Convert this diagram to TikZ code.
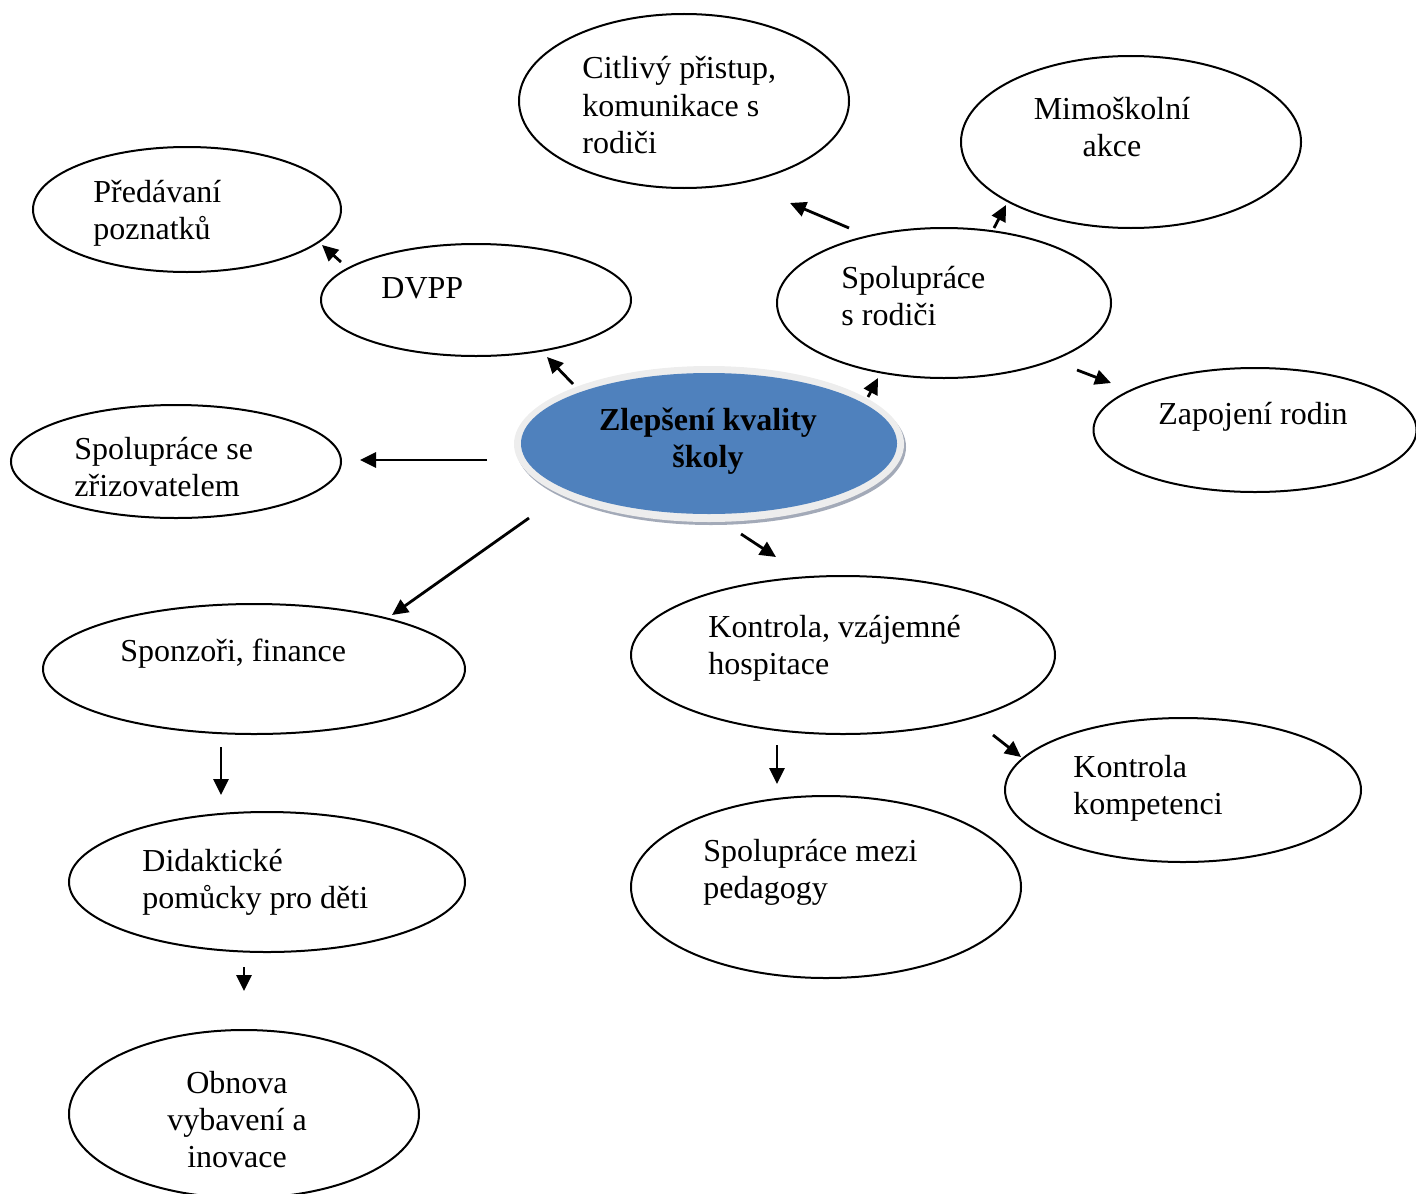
\documentclass[tikz,border=0pt]{standalone}
\usepackage{fontspec}
\setmainfont{Liberation Serif}
\usetikzlibrary{shapes.geometric,arrows.meta}
\definecolor{cblue}{HTML}{4F81BD}
\definecolor{crim}{HTML}{EDEDED}
\definecolor{cshadow}{HTML}{A3AAB8}
\begin{document}
\begin{tikzpicture}[x=0.5pt,y=-0.5pt,
  bub/.style={draw,ellipse,line width=1pt,inner sep=0,outer sep=0},
  lbl/.style={inner sep=0,align=left,anchor=base west,font=\fontsize{16}{18.5}\selectfont},
  clbl/.style={inner sep=0,align=center,anchor=base,font=\fontsize{16}{18.5}\selectfont},
  arr/.style={line width=1.4pt,-{Triangle[length=8pt,width=7.5pt]}}]
\useasboundingbox (0,0) rectangle (1416,1193);
\clip (0,0) rectangle (1416,1193);

% central ellipse
\node[ellipse,fill=cshadow,inner sep=0,minimum width=195pt,minimum height=78pt] (cshad) at (711,447) {};
\node[ellipse,fill=crim,inner sep=0,minimum width=195pt,minimum height=78pt] (crimn) at (709,444) {};
\node[ellipse,fill=cblue,inner sep=0,minimum width=188pt,minimum height=70.5pt] (center) at (709,443.5) {};
\node[clbl,font=\fontsize{16}{18.5}\selectfont\bfseries] (centerT) at (708,467) {Zlepšení kvality\\školy};

% outer ellipses
\node[bub,minimum width=154pt,minimum height=62.5pt] (pred) at (187,209.5) {};
\node[lbl] (predT) at (93,239) {Předávaní\\poznatků};

\node[bub,minimum width=165pt,minimum height=87pt] (citl) at (684,101) {};
\node[lbl] (citlT) at (582,153) {Citlivý přistup,\\komunikace s\\rodiči};

\node[bub,minimum width=170pt,minimum height=86pt] (mimo) at (1131,142) {};
\node[clbl] (mimoT) at (1112,156) {Mimoškolní\\akce};

\node[bub,minimum width=155pt,minimum height=56pt] (dvpp) at (476,300) {};
\node[lbl] (dvppT) at (381,298) {DVPP};

\node[bub,minimum width=167pt,minimum height=75pt] (rod) at (944,303) {};
\node[lbl] (rodT) at (841,325) {Spolupráce\\s rodiči};

\node[bub,minimum width=161.5pt,minimum height=62pt] (zap) at (1255,430) {};
\node[lbl] (zapT) at (1158,424) {Zapojení rodin};

\node[bub,minimum width=165pt,minimum height=56.5pt] (zriz) at (176,461.5) {};
\node[lbl] (zrizT) at (74,496) {Spolupráce se\\zřizovatelem};

\node[bub,minimum width=211pt,minimum height=65pt] (spon) at (254,669) {};
\node[lbl] (sponT) at (120,661) {Sponzoři, finance};

\node[bub,minimum width=212pt,minimum height=79pt] (kont) at (843,655) {};
\node[lbl] (kontT) at (708,674) {Kontrola, vzájemné\\hospitace};

\node[bub,minimum width=178pt,minimum height=72pt] (komp) at (1183,790) {};
\node[lbl] (kompT) at (1073,814) {Kontrola\\kompetenci};

\node[bub,minimum width=198pt,minimum height=70pt] (did) at (267,882) {};
\node[lbl] (didT) at (142,908) {Didaktické\\pomůcky pro děti};

\node[bub,minimum width=195pt,minimum height=91pt] (ped) at (826,887) {};
\node[lbl] (pedT) at (703,898) {Spolupráce mezi\\pedagogy};

\node[bub,minimum width=175pt,minimum height=84pt] (obn) at (244,1114) {};
\node[clbl] (obnT) at (237,1167) {Obnova\\vybavení a\\inovace};

% arrow end points
\coordinate (a1s) at (341,262);  \coordinate (a1e) at (322,245);
\coordinate (a2s) at (573,384);  \coordinate (a2e) at (547,357);
\coordinate (a3s) at (487,460);  \coordinate (a3e) at (360,460);
\coordinate (a4s) at (529,518);  \coordinate (a4e) at (392,615);
\coordinate (a5s) at (741,534);  \coordinate (a5e) at (776,557);
\coordinate (a6s) at (868,397);  \coordinate (a6e) at (878,378);
\coordinate (a7s) at (849,228);  \coordinate (a7e) at (790,203);
\coordinate (a8s) at (994,228);  \coordinate (a8e) at (1006,205);
\coordinate (a9s) at (1077,370); \coordinate (a9e) at (1111,383);
\coordinate (a10s) at (221,747); \coordinate (a10e) at (221,795);
\coordinate (a11s) at (244,967); \coordinate (a11e) at (244,991);
\coordinate (a12s) at (777,745); \coordinate (a12e) at (777,784);
\coordinate (a13s) at (993,735); \coordinate (a13e) at (1021,757);

\foreach \i in {1,...,13} {\draw[arr] (a\i s) -- (a\i e);}
\end{tikzpicture}
\end{document}
